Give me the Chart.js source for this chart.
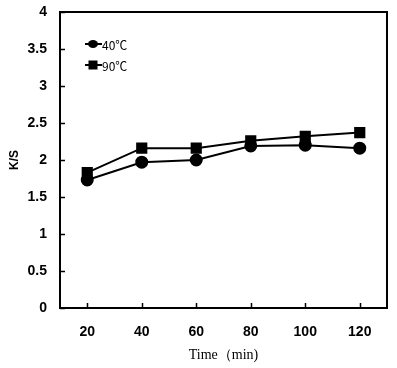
<!DOCTYPE html>
<html>
<head>
<meta charset="utf-8">
<script src="https://cdn.jsdelivr.net/npm/chart.js@4"></script>
<style>
  html, body { margin: 0; padding: 0; background: #fff; }
  #wrap { width: 397px; height: 368px; }
</style>
</head>
<body>
<div id="wrap"><canvas id="chart"></canvas></div>
<script>
const times = ['20', '40', '60', '80', '100', '120'];
const ks40 = [1.73, 1.97, 2.0, 2.19, 2.2, 2.16];
const ks90 = [1.83, 2.16, 2.16, 2.26, 2.32, 2.37];
const seriesNames = ['40\u2103', '90\u2103'];

// inward tick marks + frame
const tickPlugin = {
    id: 'innerTicks',
    afterDraw(chart) {
        const ctx = chart.ctx;
        const a = chart.chartArea;
        const x = chart.scales.x, y = chart.scales.y;
        ctx.save();
        ctx.strokeStyle = '#000';
        ctx.lineWidth = 2;
        ctx.strokeRect(a.left, a.top, a.right - a.left, a.bottom - a.top);
        ctx.lineWidth = 1.5;
        ctx.beginPath();
        y.ticks.forEach((t, i) => {
            const py = Math.round(y.getPixelForTick(i)) + 0.5;
            ctx.moveTo(a.left, py);
            ctx.lineTo(a.left + 5, py);
        });
        x.ticks.forEach((t, i) => {
            const px = Math.round(x.getPixelForTick(i)) + 0.5;
            ctx.moveTo(px, a.bottom);
            ctx.lineTo(px, a.bottom - 5);
        });
        ctx.stroke();
        ctx.restore();
    }
};

// legend drawn inside the plot, top-left
const innerLegend = {
    id: 'innerLegend',
    afterDraw(chart) {
        const ctx = chart.ctx;
        ctx.save();
        chart.data.datasets.forEach((ds, i) => {
            const cy = 44 + i * 21;
            const x0 = 85, x1 = 102, mx = 93;
            ctx.strokeStyle = '#000';
            ctx.lineWidth = 2;
            ctx.beginPath();
            ctx.moveTo(x0, cy);
            ctx.lineTo(x1, cy);
            ctx.stroke();
            ctx.fillStyle = '#000';
            if (ds.pointStyle === 'rect') {
                ctx.fillRect(mx - 4.5, cy - 4.5, 9, 9);
            } else {
                ctx.beginPath();
                ctx.ellipse(mx, cy, 5, 4, 0, 0, Math.PI * 2);
                ctx.fill();
            }
            ctx.font = '12px "Noto Sans CJK KR", "Noto Sans", sans-serif';
            ctx.textBaseline = 'middle';
            ctx.fillText(ds.label, x1, cy + 1);
        });
        ctx.restore();
    }
};

new Chart(document.getElementById('chart'), {
    type: 'line',
    data: {
        labels: times,
        datasets: [
            {
                label: seriesNames[0],
                data: ks40,
                borderColor: '#000',
                backgroundColor: '#000',
                borderWidth: 2,
                pointStyle: 'circle',
                pointRadius: 5.5,
                tension: 0
            },
            {
                label: seriesNames[1],
                data: ks90,
                borderColor: '#000',
                backgroundColor: '#000',
                borderWidth: 2,
                pointStyle: 'rect',
                pointRadius: 6.5,
                tension: 0
            }
        ]
    },
    options: {
        responsive: true,
        maintainAspectRatio: false,
        animation: false,
        layout: { padding: { top: 12, right: 10, left: 3, bottom: 0 } },
        plugins: {
            legend: { display: false },
            tooltip: { enabled: false }
        },
        scales: {
            x: {
                offset: true,
                grid: { display: false, drawTicks: false },
                border: { display: false },
                ticks: {
                    color: '#000',
                    padding: 16,
                    font: { family: 'Liberation Sans, Arial, sans-serif', size: 14, weight: 'bold' }
                },
                title: {
                    display: true,
                    text: 'Time\uff08min)',
                    color: '#000',
                    padding: { top: 0 },
                    font: { family: 'Liberation Serif, "Times New Roman", serif', size: 14 }
                },
                afterFit(s) { s.height = 60; }
            },
            y: {
                min: 0,
                max: 4,
                grid: { display: false, drawTicks: false },
                border: { display: false },
                ticks: {
                    stepSize: 0.5,
                    color: '#000',
                    padding: 13,
                    callback: v => String(v),
                    font: { family: 'Liberation Sans, Arial, sans-serif', size: 14, weight: 'bold' }
                },
                title: {
                    display: true,
                    text: 'K/S',
                    color: '#000',
                    padding: { bottom: 0 },
                    font: { family: 'Liberation Sans, Arial, sans-serif', size: 12, weight: 'bold' }
                },
                afterFit(s) { s.width = 57; s.paddingTop = 0; s.paddingBottom = 0; }
            }
        }
    },
    plugins: [tickPlugin, innerLegend]
});
</script>
</body>
</html>
